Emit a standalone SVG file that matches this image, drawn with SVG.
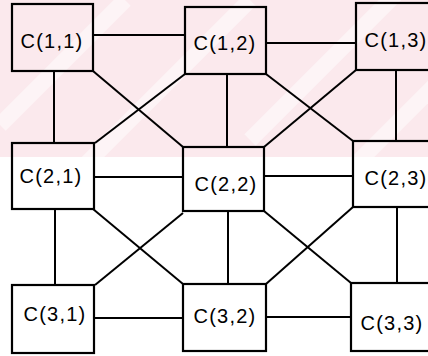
<svg xmlns="http://www.w3.org/2000/svg" width="428" height="356" viewBox="0 0 428 356">
<style>
.box{fill:none;stroke:#000;stroke-width:2.2}
.lbl{font-family:"Liberation Sans",Arial,sans-serif;font-size:20px;fill:#000;text-anchor:middle;letter-spacing:1.2px}
#connectors line{stroke:#000;stroke-width:2}
.stripe{stroke:#fdf4f6;stroke-width:16}
</style>
<defs>
<clipPath id="wm"><rect x="0" y="0" width="428" height="157"/></clipPath>
</defs>
<rect x="0" y="0" width="428" height="356" fill="#fff"/>
<g id="watermark" clip-path="url(#wm)">
<rect x="0" y="0" width="428" height="157" fill="#fbe9ed"/>
<line class="stripe" x1="0" y1="125" x2="125" y2="0"/>
<line class="stripe" x1="60" y1="190" x2="250" y2="0"/>
<line class="stripe" x1="250" y1="140" x2="400" y2="-10"/>
<line class="stripe" x1="330" y1="190" x2="520" y2="0"/>
</g>
<g id="connectors">
<line x1="93" y1="35" x2="185" y2="35"/>
<line x1="266" y1="43" x2="356" y2="43"/>
<line x1="93" y1="177" x2="183" y2="177"/>
<line x1="264" y1="176" x2="353" y2="176"/>
<line x1="94" y1="318" x2="183" y2="318"/>
<line x1="266" y1="317" x2="351" y2="317"/>
<line x1="54" y1="71" x2="54" y2="143"/>
<line x1="227" y1="74" x2="227" y2="147"/>
<line x1="396" y1="70" x2="396" y2="141"/>
<line x1="55" y1="209" x2="55" y2="285"/>
<line x1="228" y1="211" x2="228" y2="284"/>
<line x1="397" y1="207" x2="397" y2="283"/>
<line x1="93" y1="71" x2="183" y2="147"/>
<line x1="185" y1="74" x2="95" y2="143"/>
<line x1="266" y1="74" x2="353" y2="141"/>
<line x1="356" y1="70" x2="264" y2="147"/>
<line x1="93" y1="209" x2="183" y2="284"/>
<line x1="183" y1="213" x2="95" y2="285"/>
<line x1="264" y1="211" x2="351" y2="283"/>
<line x1="353" y1="207" x2="266" y2="284"/>
</g>
<g id="n11"><rect class="box" x="12" y="4" width="81" height="67"/><text class="lbl" x="52" y="48">C(1,1)</text></g>
<g id="n12"><rect class="box" x="185" y="7" width="81" height="67"/><text class="lbl" x="225" y="50">C(1,2)</text></g>
<g id="n13"><rect class="box" x="356" y="3" width="90" height="67"/><text class="lbl" x="396" y="47">C(1,3)</text></g>
<g id="n21"><rect class="box" x="12" y="143" width="82" height="66"/><text class="lbl" x="51" y="183">C(2,1)</text></g>
<g id="n22"><rect class="box" x="183" y="147" width="81" height="64"/><text class="lbl" x="226" y="191">C(2,2)</text></g>
<g id="n23"><rect class="box" x="353" y="141" width="90" height="66"/><text class="lbl" x="396" y="185">C(2,3)</text></g>
<g id="n31"><rect class="box" x="12" y="285" width="82" height="68"/><text class="lbl" x="55" y="321">C(3,1)</text></g>
<g id="n32"><rect class="box" x="183" y="284" width="83" height="67"/><text class="lbl" x="225" y="323">C(3,2)</text></g>
<g id="n33"><rect class="box" x="351" y="283" width="95" height="68"/><text class="lbl" x="392" y="330">C(3,3)</text></g>
</svg>
